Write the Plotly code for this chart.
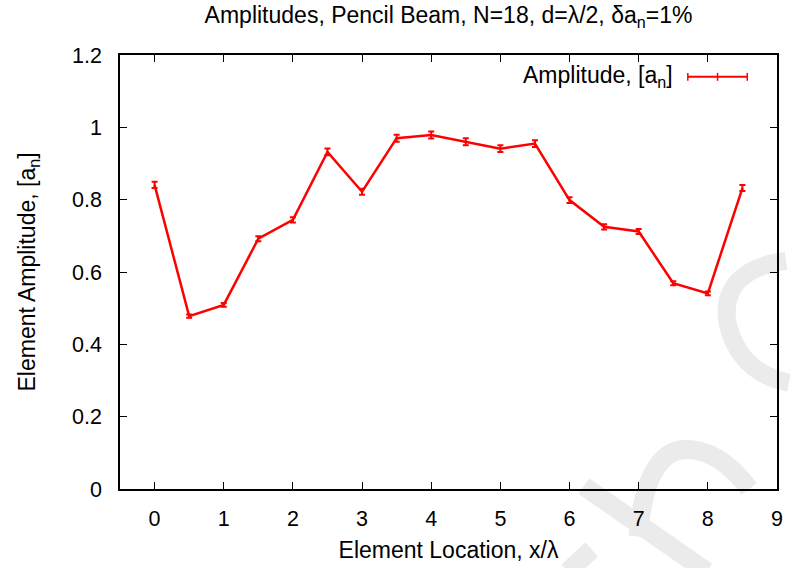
import plotly.graph_objects as go

# ---- data ----
x_loc = [0, 0.5, 1, 1.5, 2, 2.5, 3, 3.5, 4, 4.5, 5, 5.5, 6, 6.5, 7, 7.5, 8, 8.5]
amp = [0.841, 0.478, 0.509, 0.692, 0.744, 0.932, 0.822, 0.970, 0.979, 0.960,
       0.941, 0.955, 0.799, 0.725, 0.712, 0.569, 0.541, 0.832]
rel_err = 0.01  # delta a_n = 1%
err = [a * rel_err for a in amp]
x_ticks = [0, 1, 2, 3, 4, 5, 6, 7, 8, 9]
y_ticks = [0, 0.2, 0.4, 0.6, 0.8, 1.0, 1.2]

W, H = 792, 568
L, R, T, B = 120, 9, 55, 76
PW, PH = W - L - R, H - T - B

def px(xp):
    return (xp - L) / PW

def py(yp):
    return (H - B - yp) / PH

RED = "#ff0000"
FONT = "Liberation Sans, Helvetica, Arial, sans-serif"
FS_TICK = 21.5
FS_LAB = 23

fig = go.Figure()
fig.add_trace(go.Scatter(
    x=x_loc, y=amp, mode="lines",
    line=dict(color=RED, width=2.5),
    error_y=dict(type="data", array=err, visible=True, color=RED, thickness=2, width=3),
    name="Amplitude, [a<sub>n</sub>]", showlegend=False,
))

shapes = []
# faint watermark strokes (decoration)
wm = "#ebebeb"
def seg(x0, y0, x1, y1, w=19):
    shapes.append(dict(type="line", xref="paper", yref="paper",
                       x0=px(x0), y0=py(y0), x1=px(x1), y1=py(y1),
                       line=dict(color=wm, width=w), layer="below"))
def path(pts, w=19):
    d = "M {:.4f},{:.4f} Q {:.4f},{:.4f} {:.4f},{:.4f} Q {:.4f},{:.4f} {:.4f},{:.4f}".format(
        px(pts[0][0]), py(pts[0][1]), px(pts[1][0]), py(pts[1][1]), px(pts[2][0]), py(pts[2][1]),
        px(pts[3][0]), py(pts[3][1]), px(pts[4][0]), py(pts[4][1]))
    shapes.append(dict(type="path", xref="paper", yref="paper", path=d,
                       line=dict(color=wm, width=w), layer="below"))

seg(588, 489, 712, 575)
path([(643, 540), (650, 455), (690, 452), (725, 452), (755, 492)])
path([(792, 262), (725, 272), (733, 325), (745, 375), (795, 385)], w=18)
seg(596, 553, 572, 575)

# legend (gnuplot style: key text then sample on the right)
ly = 77
shapes.append(dict(type="line", xref="paper", yref="paper",
                   x0=px(693), y0=py(ly), x1=px(753), y1=py(ly),
                   line=dict(color=RED, width=2)))
for cx in (693, 723, 753):
    shapes.append(dict(type="line", xref="paper", yref="paper",
                       x0=px(cx), y0=py(ly - 4), x1=px(cx), y1=py(ly + 4),
                       line=dict(color=RED, width=1.5)))

annotations = [dict(
    text="Amplitude, [a<sub>n</sub>]", xref="paper", yref="paper",
    x=px(680), y=py(ly), xanchor="right", yanchor="middle",
    showarrow=False, font=dict(family=FONT, size=FS_LAB, color="black"))]

axis_common = dict(
    showgrid=False, zeroline=False, showline=True, linecolor="black", linewidth=1.5,
    mirror="ticks", ticks="inside", ticklen=7, tickwidth=1, tickcolor="black",
    tickfont=dict(family=FONT, size=FS_TICK, color="black"),
)

fig.update_layout(
    width=W, height=H,
    margin=dict(l=L, r=R, t=T, b=B),
    paper_bgcolor="white", plot_bgcolor="white",
    title=dict(text="Amplitudes, Pencil Beam, N=18, d=λ/2, δa<sub>n</sub>=1%",
               x=px((L + W - R) / 2), xanchor="center",
               y=1 - 15 / H, yanchor="middle", xref="paper", yref="container",
               font=dict(family=FONT, size=23, color="black")),
    xaxis=dict(range=[-0.5, 9], tickvals=x_ticks, ticklabelstandoff=9,
               title=dict(text="Element Location, x/λ", standoff=12,
                          font=dict(family=FONT, size=FS_LAB, color="black")),
               **axis_common),
    yaxis=dict(range=[0, 1.2], tickvals=y_ticks, ticktext=[f"{v:g}" for v in y_ticks],
               ticklabelstandoff=12,
               title=dict(text="Element Amplitude, [a<sub>n</sub>]", standoff=30,
                          font=dict(family=FONT, size=FS_LAB, color="black")),
               **axis_common),
    shapes=shapes, annotations=annotations, showlegend=False,
)

fig.write_html("out.html")
